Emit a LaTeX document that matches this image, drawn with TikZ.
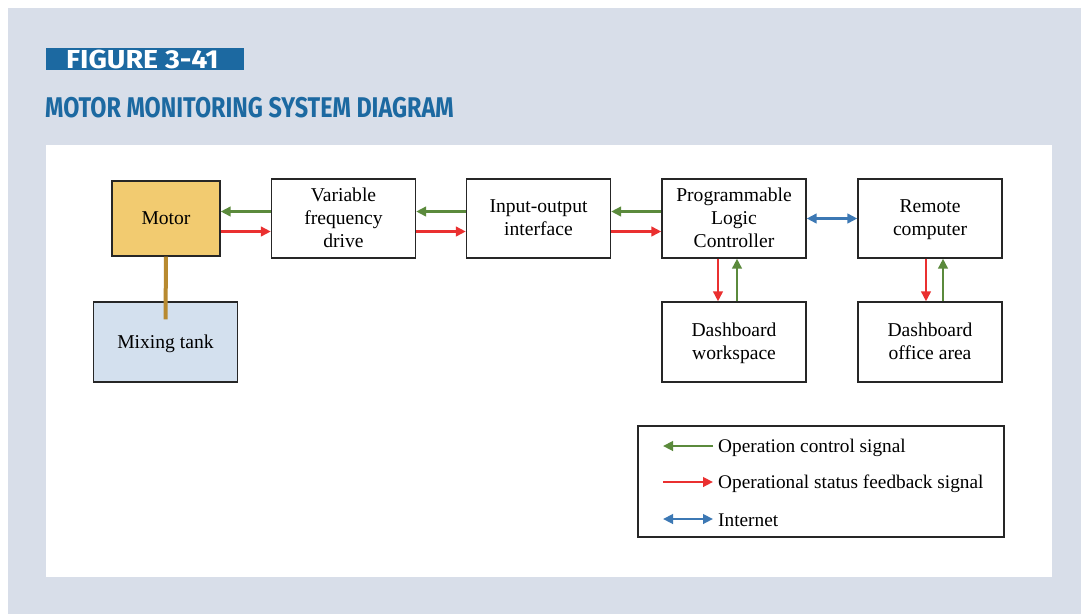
\documentclass[tikz,border=0pt]{standalone}
\usepackage{fontspec}
\setmainfont{Liberation Serif}
\newfontfamily\headfont[FakeStretch=0.82]{Fira Sans}
\newfontfamily\figfont{Fira Sans}
\usetikzlibrary{arrows.meta}
\definecolor{bgc}{HTML}{D8DEE9}
\definecolor{hblue}{HTML}{1C69A1}
\definecolor{sgreen}{HTML}{5B8A3C}
\definecolor{sred}{HTML}{EA3030}
\definecolor{sblue}{HTML}{3C78B4}
\definecolor{motorc}{HTML}{F2CB70}
\definecolor{tankc}{HTML}{D3E0EE}
\definecolor{shaftc}{HTML}{B88A30}
\tikzset{
  blk/.style={draw=black!85, line width=1.3pt, minimum width=144pt, minimum height=79pt, align=center, font=\fontsize{19.6}{23}\selectfont, inner sep=0pt, text depth=1.5pt},
  ctl/.style={draw=sgreen, line width=2.7pt, -{Triangle[length=10pt,width=9.5pt]}},
  fbk/.style={draw=sred, line width=2.7pt, -{Triangle[length=10pt,width=9.5pt]}},
  net/.style={draw=sblue, line width=2.7pt, {Triangle[length=10pt,width=9.5pt]}-{Triangle[length=10pt,width=9.5pt]}},
  lgd/.style={anchor=west, font=\fontsize{19.3}{22}\selectfont, inner sep=0pt}
}
\begin{document}
\begin{tikzpicture}[x=1pt,y=-1pt]
\useasboundingbox (0,0) rectangle (1081,614);
\fill[white] (0,0) rectangle (1081,614);
\fill[bgc] (8,8) rectangle (1081,614);
\fill[white] (46,145) rectangle (1052,577);
% header
\fill[hblue] (46,48) rectangle (244,70);
\node[anchor=west, text=white, font=\figfont\bfseries\fontsize{26}{26}\selectfont, inner sep=0pt] (fig) at (66,59) {\scalebox{1.1}[1]{FIGURE 3-41}};
\node[anchor=west, text=hblue, font=\headfont\bfseries\fontsize{28.5}{28.5}\selectfont, inner sep=0pt] (title) at (45,107.5) {MOTOR MONITORING SYSTEM DIAGRAM};
% blocks
\node[blk, fill=motorc, minimum width=108pt, minimum height=75pt] (motor) at (166,218.5) {Motor};
\node[blk, fill=tankc, minimum height=80pt] (tank) at (165.5,342) {Mixing tank};
\node[blk] (vfd) at (343.5,218.5) {Variable\\frequency\\drive};
\node[blk] (io) at (538.5,218.5) {Input-output\\interface};
\node[blk] (plc) at (734,218.5) {Programmable\\Logic\\Controller};
\node[blk] (rc) at (930,218.5) {Remote\\computer};
\node[blk, minimum height=80pt] (dw) at (734,342) {Dashboard\\workspace};
\node[blk, minimum height=80pt] (doa) at (930,342) {Dashboard\\office area};
% shaft
\draw[shaftc, line width=4pt] (motor.south) -- ([yshift=-18pt]tank.north);
% horizontal signals
\draw[ctl] ([yshift=7pt]vfd.west) -- ([yshift=7pt]vfd.west -| motor.east);
\draw[fbk] ([yshift=-13pt]vfd.west -| motor.east) -- ([yshift=-13pt]vfd.west);
\draw[ctl] ([yshift=7pt]io.west) -- ([yshift=7pt]vfd.east);
\draw[fbk] ([yshift=-13pt]vfd.east) -- ([yshift=-13pt]io.west);
\draw[ctl] ([yshift=7pt]plc.west) -- ([yshift=7pt]io.east);
\draw[fbk] ([yshift=-13pt]io.east) -- ([yshift=-13pt]plc.west);
\draw[net] (plc.east) -- (rc.west);
% vertical signals
\draw[fbk] ([xshift=-16pt]plc.south) -- ([xshift=-16pt]dw.north);
\draw[ctl] ([xshift=3pt]dw.north) -- ([xshift=3pt]plc.south);
\draw[fbk] ([xshift=-4pt]rc.south) -- ([xshift=-4pt]doa.north);
\draw[ctl] ([xshift=13pt]doa.north) -- ([xshift=13pt]rc.south);
% legend
\node[draw=black!85, line width=1.3pt, minimum width=366pt, minimum height=111pt, inner sep=0pt] (leg) at (821,481.5) {};
\coordinate (l1a) at (663,446); \coordinate (l1b) at (713,446);
\coordinate (l2a) at (663,482); \coordinate (l2b) at (713,482);
\coordinate (l3a) at (663,519); \coordinate (l3b) at (713,519);
\draw[ctl] (l1b) -- (l1a);
\draw[fbk] (l2a) -- (l2b);
\draw[net] (l3a) -- (l3b);
\node[lgd] (t1) at (718,447.5) {Operation control signal};
\node[lgd] (t2) at (718,483.5) {Operational status feedback signal};
\node[lgd] (t3) at (718,520.5) {Internet};
\end{tikzpicture}
\end{document}
